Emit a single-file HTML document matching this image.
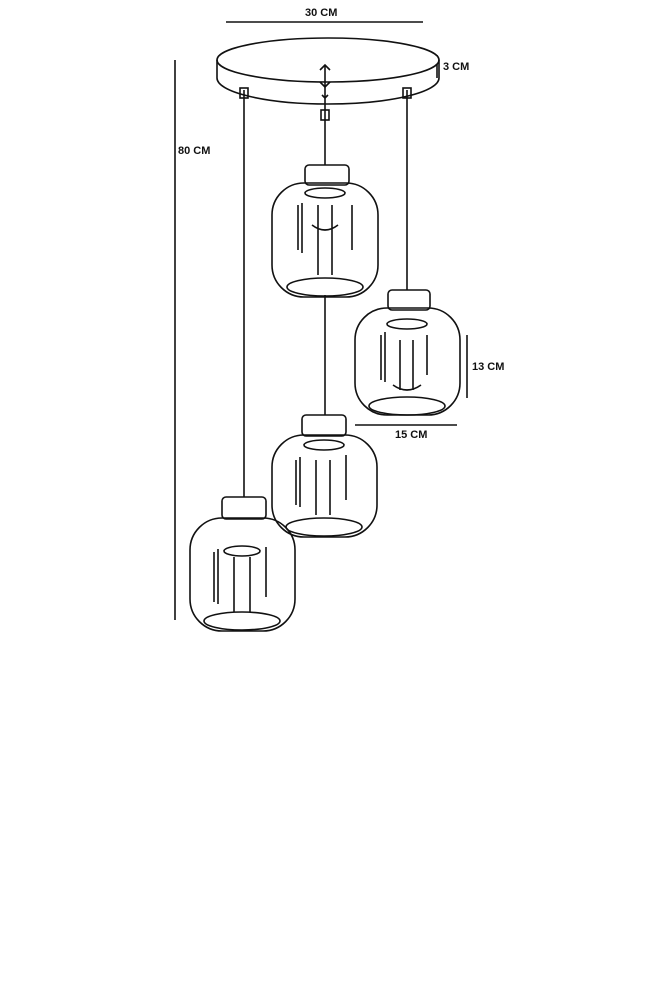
<!DOCTYPE html>
<html><head><meta charset="utf-8"><style>
html,body{margin:0;padding:0;background:#fff;}
svg{display:block}
text{font-family:"Liberation Sans",sans-serif;font-weight:bold;font-size:11px;fill:#111}
</style></head><body>
<svg width="667" height="1000" viewBox="0 0 667 1000" xmlns="http://www.w3.org/2000/svg">
<g stroke="#111" fill="none" stroke-width="1.6">
<!-- dimensions -->
<line x1="226" y1="22" x2="423" y2="22"/>
<line x1="175" y1="60" x2="175" y2="620"/>
<line x1="437" y1="55" x2="437" y2="78"/>
<line x1="467" y1="335" x2="467" y2="398"/>
<line x1="355" y1="425" x2="457" y2="425"/>
<!-- canopy -->
<ellipse cx="328" cy="60" rx="111" ry="22" fill="#fff"/>
<path d="M217 60 L217 78 A111 26 0 0 0 439 78 L439 60"/>
<!-- cords -->
<line x1="244" y1="90" x2="244" y2="500"/>
<line x1="325" y1="65" x2="325" y2="170"/>
<line x1="325" y1="295" x2="325" y2="418"/>
<line x1="407" y1="90" x2="407" y2="292"/>
<path d="M320 70 l5 -5 l5 5 M320 82 l5 5 l5 -5 M322 95 l3 3 l3 -3"/>
<rect x="240" y="88" width="8" height="10"/>
<rect x="403" y="88" width="8" height="10"/>
<rect x="321" y="110" width="8" height="10"/>
</g>
<g stroke="#111" fill="none" stroke-width="1.6">
<!-- lamp template drawn 4 times -->
<g transform="translate(272,165)">
<rect x="33" y="0" width="44" height="20" rx="4" fill="#fff"/>
<rect x="0" y="18" width="106" height="114" rx="32"/>
<ellipse cx="53" cy="122" rx="38" ry="9"/>
<ellipse cx="53" cy="28" rx="20" ry="5"/>
<path d="M26 40 v45 M30 38 v50 M80 40 v45 M46 40 v70 M60 40 v70 M40 60 q13 10 26 0"/>
</g>
<g transform="translate(355,290)">
<rect x="33" y="0" width="42" height="20" rx="4" fill="#fff"/>
<rect x="0" y="18" width="105" height="107" rx="32"/>
<ellipse cx="52" cy="116" rx="38" ry="9"/>
<ellipse cx="52" cy="34" rx="20" ry="5"/>
<path d="M26 45 v45 M30 42 v50 M45 50 v50 M58 50 v50 M38 95 q14 10 28 0 M72 45 v40"/>
</g>
<g transform="translate(272,415)">
<rect x="30" y="0" width="44" height="21" rx="4" fill="#fff"/>
<rect x="0" y="20" width="105" height="102" rx="32"/>
<ellipse cx="52" cy="112" rx="38" ry="9"/>
<ellipse cx="52" cy="30" rx="20" ry="5"/>
<path d="M24 45 v45 M28 42 v50 M44 45 v55 M58 45 v55 M74 40 v45"/>
</g>
<g transform="translate(190,497)">
<rect x="32" y="0" width="44" height="22" rx="4" fill="#fff"/>
<rect x="0" y="21" width="105" height="113" rx="32"/>
<ellipse cx="52" cy="124" rx="38" ry="9"/>
<ellipse cx="52" cy="54" rx="18" ry="5"/>
<path d="M24 55 v50 M28 52 v55 M44 60 v55 M60 60 v55 M76 50 v50"/>
</g>
</g>
<text x="305" y="16">30 CM</text>
<text x="178" y="154">80 CM</text>
<text x="443" y="70">3 CM</text>
<text x="472" y="370">13 CM</text>
<text x="395" y="438">15 CM</text>
</svg>
</body></html>
